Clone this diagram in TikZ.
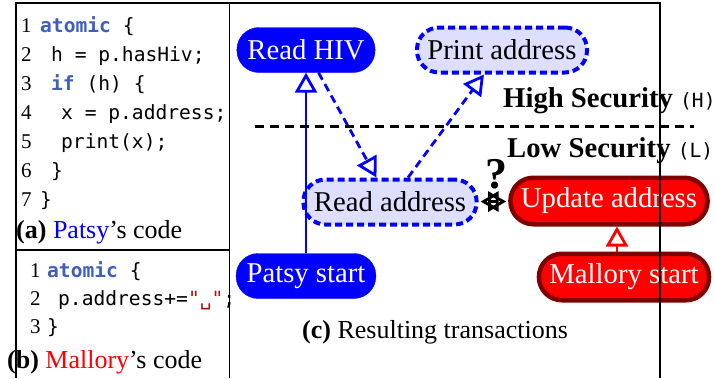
\documentclass[tikz,border=0pt]{standalone}
\usepackage{fontspec}
\setmainfont{Liberation Serif}
\setmonofont{DejaVu Sans Mono}
\usepackage{xcolor}
\usetikzlibrary{arrows.meta,calc}

\definecolor{kwblue}{RGB}{63,95,191}
\definecolor{strred}{RGB}{163,21,21}
\definecolor{darkred}{RGB}{128,0,0}
\newcommand{\numsize}{\fontsize{21}{24}\selectfont}
\newcommand{\codesize}{\fontsize{19.6}{24}\selectfont\ttfamily}
\newcommand{\capsize}{\fontsize{26}{30}\selectfont}
\newcommand{\txnsize}{\fontsize{28.7}{32}\selectfont}
\newcommand{\kw}[1]{\textcolor{kwblue}{\bfseries #1}}

\tikzset{
  txn/.style={rounded corners=22pt,minimum height=45pt,inner xsep=10.5pt,inner ysep=0pt,font=\txnsize},
  patsytxn/.style={txn,fill=blue,draw=blue,text=white},
  patsyopt/.style={txn,fill=blue!13,draw=blue,line width=4pt,dash pattern=on 7pt off 4pt},
  mallorytxn/.style={txn,rounded corners=23pt,minimum height=46.5pt,fill=red,draw=darkred,line width=4.5pt,text=white},
  opentip/.style={-{Triangle[open,length=20pt,width=22pt]}},
  flow/.style={blue,line width=2.8pt,opentip},
  mayflow/.style={flow,dash pattern=on 8pt off 5pt},
  frame/.style={line width=1.3pt},
  code/.style={anchor=base west,inner sep=0pt,font=\codesize},
  lnum/.style={anchor=base west,inner sep=0pt,font=\numsize},
  caption/.style={anchor=base west,inner sep=0pt,font=\capsize},
}

\begin{document}
\begin{tikzpicture}[x=1pt,y=-1pt]
\useasboundingbox (0,0) rectangle (715,378);

\foreach \y/\x/\n/\c in {32/40/1/{\kw{atomic} \{},61/51/2/{h = p.hasHiv;},90/51/3/{\kw{if} (h) \{},
    119/61/4/{x = p.address;},148/61/5/{print(x);},177/51/6/{\}},206/40/7/{\}}}{
  \node[lnum] (an\n) at (21,\y) {\n};
  \node[code] (ac\n) at (\x,\y) {\c};
}
\node[caption] (capa) at (16,238) {\textbf{(a)} \textcolor{blue}{Patsy}'s code};

\foreach \y/\x/\n/\c in {277/47/1/{\kw{atomic} \{},305/58/2/{p.address+=\textcolor{strred}{"␣"};},333/47/3/{\}}}{
  \node[lnum] (bn\n) at (30,\y) {\n};
  \node[code] (bc\n) at (\x,\y) {\c};
}
\node[caption] (capb) at (7,368) {\textbf{(b)} \textcolor{red}{Mallory}'s code};

\node[patsytxn] (readhiv) at (306,50) {Read HIV};
\node[patsyopt] (printaddr) at (502,50) {Print address};
\node[patsyopt] (readaddr) at (390,202) {Read address};
\node[mallorytxn] (update) at (609,201) {Update address};
\node[patsytxn] (patsystart) at (306,276) {Patsy start};
\node[mallorytxn] (mallorystart) at (624,277) {Mallory start};

\draw[flow] (patsystart) -- (readhiv);
\draw[mayflow] (readhiv) -- (readaddr);
\draw[mayflow] (readaddr) -- (printaddr);
\draw[red,line width=2.8pt,opentip] ([xshift=-7pt]mallorystart.north) -- ([xshift=8pt]update.south);
\draw[line width=2.8pt,{Triangle[open,length=18pt,width=20pt]}-{Triangle[open,length=18pt,width=20pt]},shorten <=2pt,shorten >=2pt]
  (readaddr) -- node[above=11pt,xshift=3pt,inner sep=0pt,font=\bfseries\fontsize{44}{44}\selectfont] (ask) {?} (update);

\draw[line width=3pt,dash pattern=on 9pt off 6pt] (255,126) -- (694,126);
\node[anchor=base west,inner sep=0pt,font=\txnsize] (high) at (503,107) {\textbf{High Security} {\codesize(H)}};
\node[anchor=base west,inner sep=0pt,font=\txnsize] (low) at (507,157) {\textbf{Low Security} {\codesize(L)}};
\node[caption] (capc) at (302,338) {\textbf{(c)} Resulting transactions};

\draw[frame] (16,378) -- (16,3) -- (660,3) -- (660,378);
\draw[frame] (229.5,3) -- (229.5,378);
\draw[frame] (16,250) -- (229.5,250);
\end{tikzpicture}
\end{document}
